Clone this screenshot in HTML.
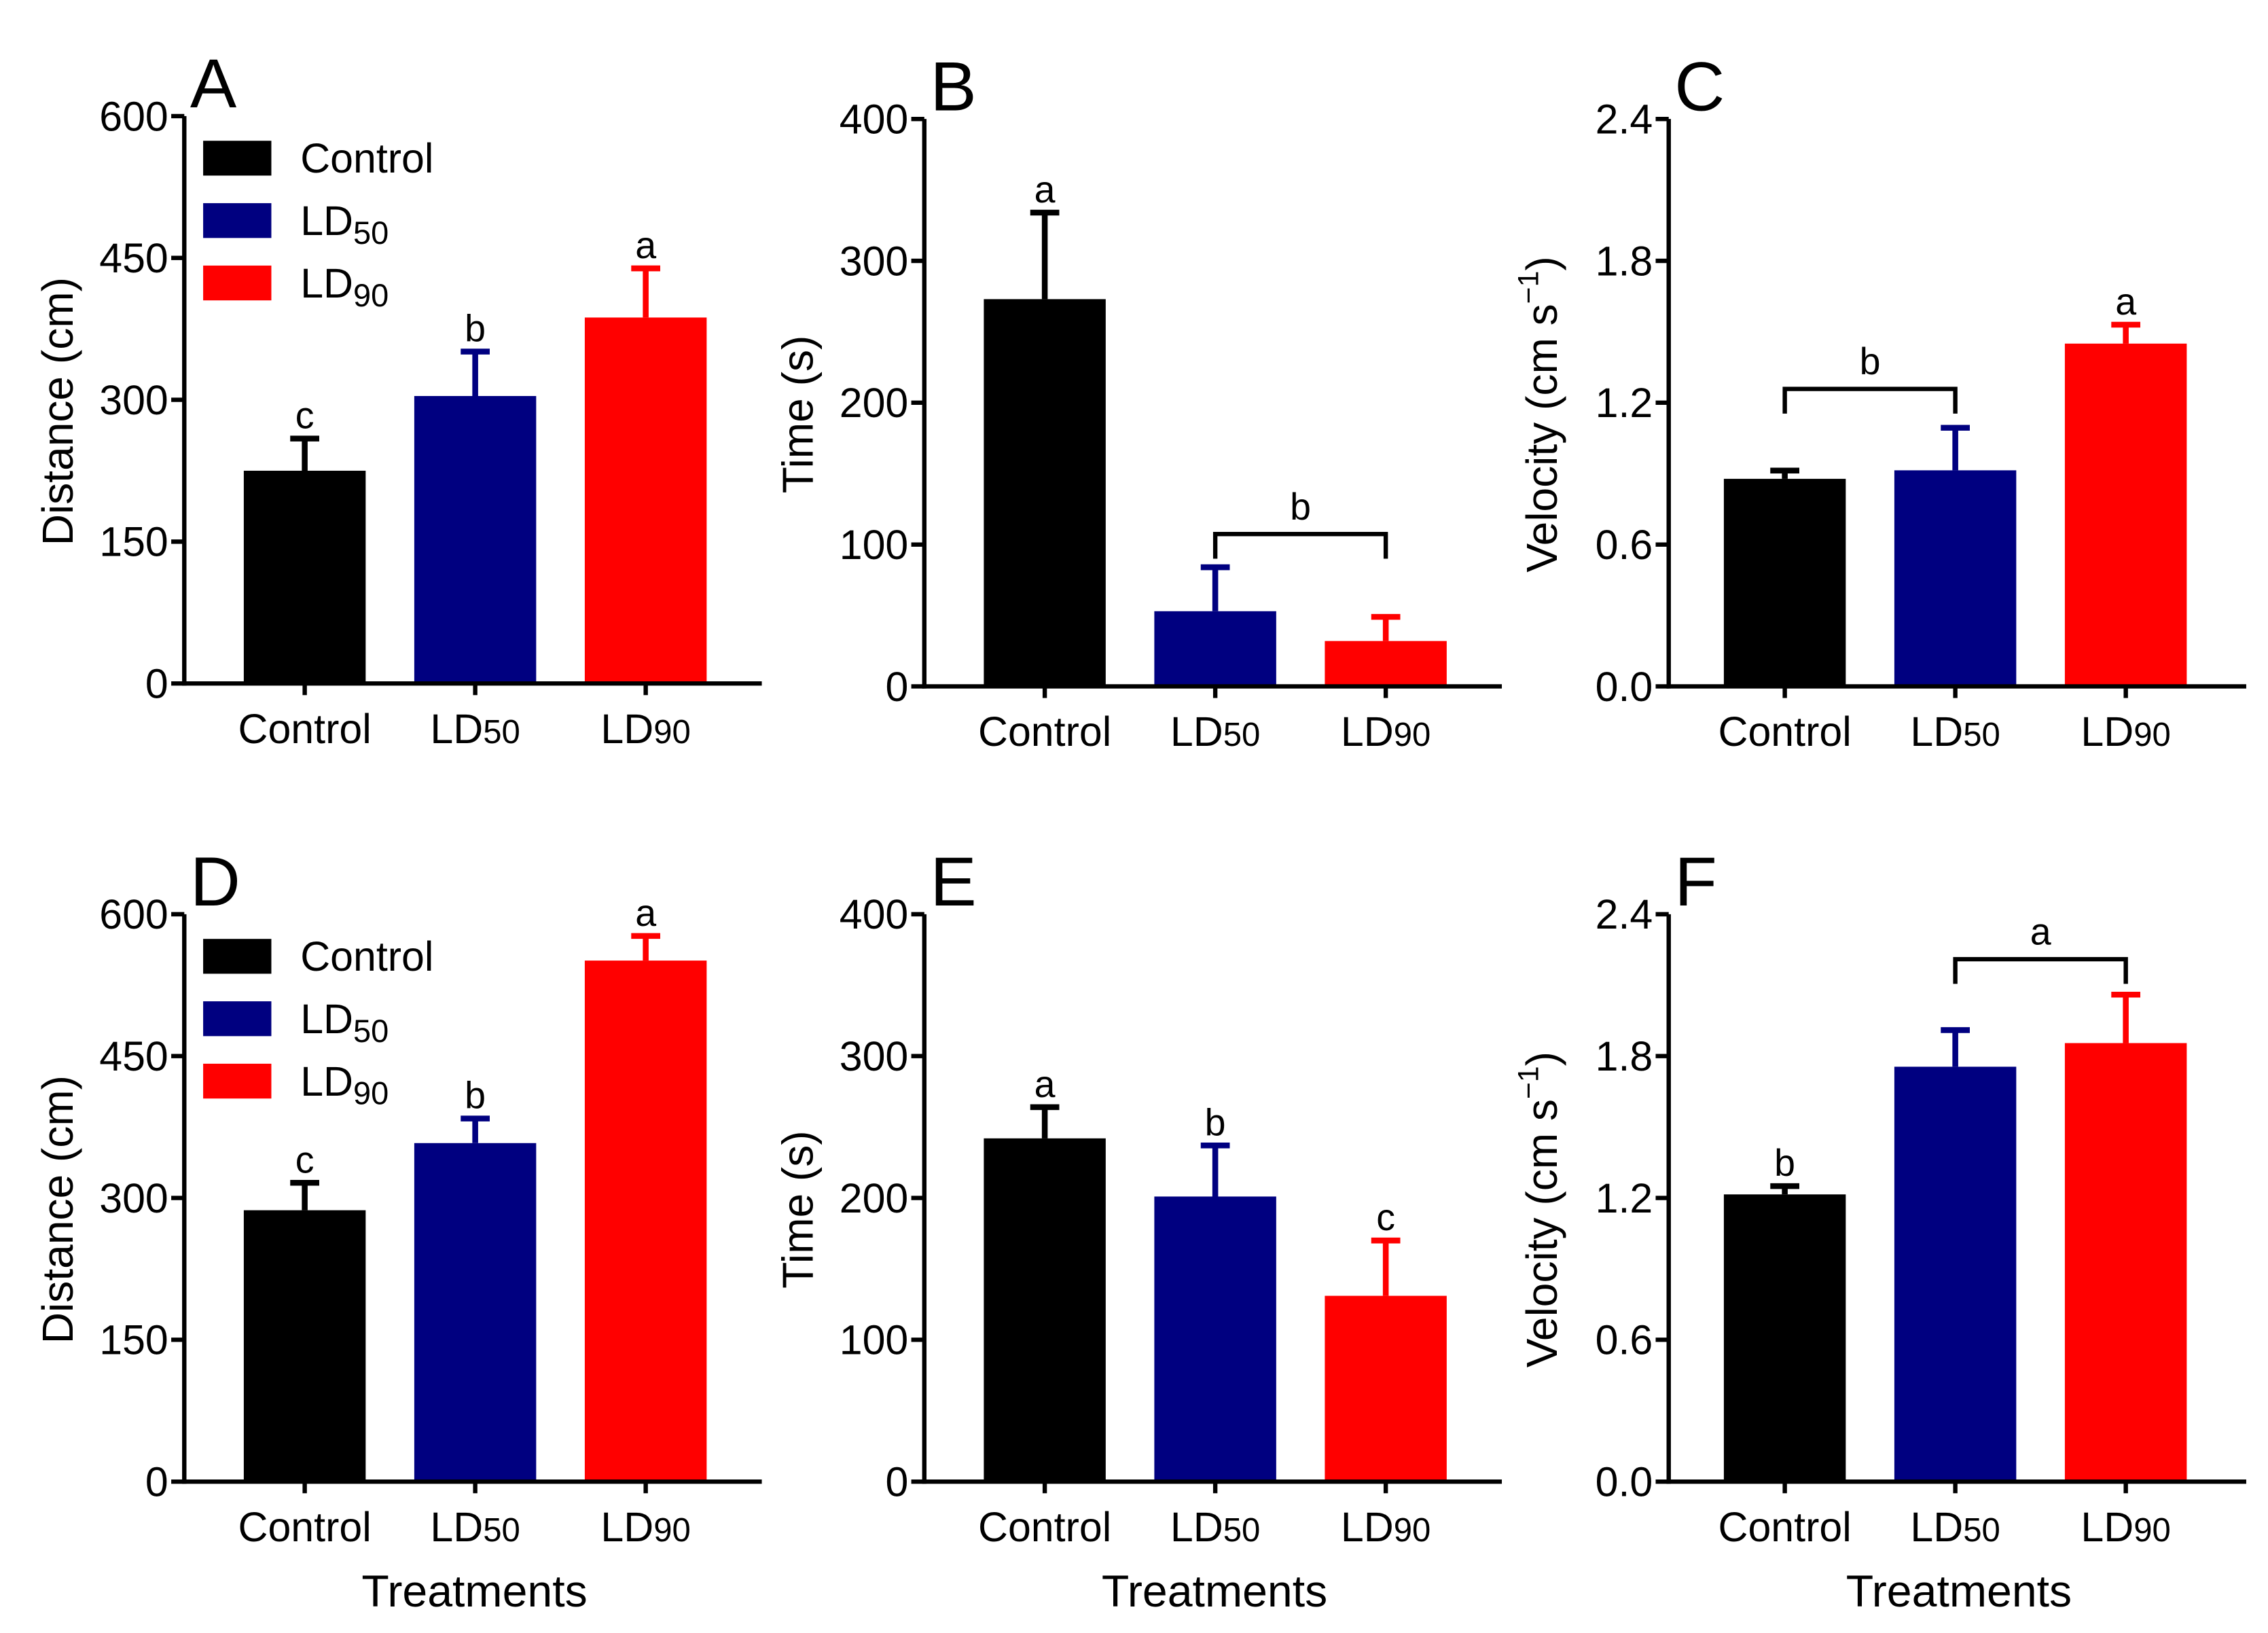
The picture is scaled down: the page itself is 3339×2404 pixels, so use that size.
<!DOCTYPE html>
<html><head><meta charset="utf-8"><style>
html,body{margin:0;padding:0;background:#fff;}
svg{display:block;font-family:"Liberation Sans",Arial,sans-serif;}
</style></head><body>
<svg id="fig" width="3339" height="2404" viewBox="0 0 1563 1125.3" preserveAspectRatio="none" xmlns="http://www.w3.org/2000/svg"></svg>
<script>
const categories = ["Control","LD50","LD90"];
const colors = ["#000000","#000080","#ff0000"];
const letters = ["A","B","C","D","E","F"];
const yMaxes = [600,400,2.4,600,400,2.4];
const yTicksDist = ["0","150","300","450","600"];
const yTicksTime = ["0","100","200","300","400"];
const yTicksVel = ["0.0","0.6","1.2","1.8","2.4"];
const valsA = [225,304,387], errA = [34,47,52];
const valsB = [273,53,32], errB = [61,31,17];
const valsC = [0.878,0.914,1.45], errC = [0.035,0.18,0.08];
const valsD = [287,358,551], errD = [29,26,26];
const valsE = [242,201,131], errE = [22,36,39];
const valsF = [1.215,1.755,1.855], errF = [0.035,0.155,0.205];
const sigA = ["c","b","a"], sigB = ["a","",""], sigC = ["","","a"];
const sigD = ["c","b","a"], sigE = ["a","b","c"], sigF = ["b","",""];

const svg = document.getElementById('fig');
const NS = "http://www.w3.org/2000/svg";
function mk(tag, attrs, parent){const e=document.createElementNS(NS,tag);for(const k in attrs)e.setAttribute(k,attrs[k]);(parent||svg).appendChild(e);return e;}

const panels = [
 {ax:127, off:83, top:80, bot:471, vals:valsA, err:errA, sig:sigA, ticks:yTicksDist, title:"Distance (cm)", legend:true, bracket:null},
 {ax:637, off:83, top:82, bot:473, vals:valsB, err:errB, sig:sigB, ticks:yTicksTime, title:"Time (s)", bracket:{a:1,b:2,y:368,t:"b"}},
 {ax:1150, off:80, top:82, bot:473, vals:valsC, err:errC, sig:sigC, ticks:yTicksVel, title:"vel", bracket:{a:0,b:1,y:268,t:"b"}},
 {ax:127, off:83, top:630, bot:1021, vals:valsD, err:errD, sig:sigD, ticks:yTicksDist, title:"Distance (cm)", legend:true, bracket:null, xt:true},
 {ax:637, off:83, top:630, bot:1021, vals:valsE, err:errE, sig:sigE, ticks:yTicksTime, title:"Time (s)", bracket:null, xt:true},
 {ax:1150, off:80, top:630, bot:1021, vals:valsF, err:errF, sig:sigF, ticks:yTicksVel, title:"vel", bracket:{a:1,b:2,y:661,t:"a"}, xt:true}
];

panels.forEach((p,pi)=>{
  const g = mk('g',{});
  
  
  const ymax = yMaxes[pi];
  const y = v => p.bot - v/ymax*(p.bot-p.top);
  const xc = i => p.ax + p.off + i*117.5;
  const bw = 84;
  categories.forEach((c,i)=>{
    const yt = y(p.vals[i]), ye = y(p.vals[i]+p.err[i]);
    const ln = mk('line',{x1:xc(i),x2:xc(i),y1:yt,y2:ye,stroke:colors[i],'stroke-width':4},g);
    
    
    const cap = mk('line',{x1:xc(i)-10,x2:xc(i)+10,y1:ye,y2:ye,stroke:colors[i],'stroke-width':4},g);
    
    
    const r = mk('rect',{x:xc(i)-bw/2,y:yt,width:bw,height:p.bot-yt,fill:colors[i]},g);
    
    
    if(p.sig[i]){
      const s = mk('text',{x:xc(i),y:ye-7,'font-size':26,'text-anchor':'middle',fill:'#000'},g);
      s.textContent=p.sig[i];
      
      
    }
    mk('line',{x1:xc(i),x2:xc(i),y1:p.bot,y2:p.bot+8,stroke:'#000','stroke-width':3},g);
    const t = mk('text',{x:xc(i),y:p.bot+41,'font-size':28.5,'text-anchor':'middle',fill:'#000'},g);
    
    
    if(c==="Control"){t.textContent="Control";}
    else{t.textContent="LD";const ts=mk('tspan',{'font-size':23},t);ts.textContent=c.slice(2);}
  });
  const ya = mk('line',{x1:p.ax,x2:p.ax,y1:p.top,y2:p.bot+1.5,stroke:'#000','stroke-width':3},g);
   
  const xa = mk('line',{x1:p.ax-1.5,x2:p.ax+398,y1:p.bot,y2:p.bot,stroke:'#000','stroke-width':3},g);
   
  p.ticks.forEach((lab,k)=>{
    const v = ymax*k/(p.ticks.length-1);
    mk('line',{x1:p.ax-9,x2:p.ax,y1:y(v),y2:y(v),stroke:'#000','stroke-width':3},g);
    const t = mk('text',{x:p.ax-11,y:y(v)+10,'font-size':28.5,'text-anchor':'end',fill:'#000'},g);
    t.textContent=lab;
    
    
  });
  const cy=(p.top+p.bot)/2+8, tx=p.ax-77;
  const yt = mk('text',{x:tx,y:cy,'font-size':30,'text-anchor':'middle',transform:`rotate(-90 ${tx} ${cy})`,fill:'#000'},g);
  
  
  if(p.title==="vel"){
    yt.textContent="Velocity (cm s";
    const sp=mk('tspan',{'font-size':20,dy:-13},yt);sp.textContent="−1";
    const sp2=mk('tspan',{dy:13},yt);sp2.textContent=")";
  } else yt.textContent=p.title;
  const L = mk('text',{x:p.ax+4,y:p.top-6,'font-size':48,fill:'#000'},g);
  L.textContent=letters[pi];
  
  
  if(p.bracket){
    const b=p.bracket, x1=xc(b.a), x2=xc(b.b);
    const br = mk('path',{d:`M${x1} ${b.y+17}V${b.y}H${x2}V${b.y+17}`,fill:'none',stroke:'#000','stroke-width':3},g);
    
    
    const bt = mk('text',{x:(x1+x2)/2,y:b.y-10,'font-size':26,'text-anchor':'middle',fill:'#000'},g);
    bt.textContent=b.t;
    
    
  }
  if(p.legend){
    categories.forEach((c,i)=>{
      const ly = p.top+29+i*43;
      const sw = mk('rect',{x:p.ax+13,y:ly-12,width:47,height:24,fill:colors[i]},g);
      
      
      const lt = mk('text',{x:p.ax+80,y:ly+10,'font-size':28.5,fill:'#000'},g);
      
      
      if(c==="Control") lt.textContent="Control";
      else{lt.textContent="LD";const s=mk('tspan',{'font-size':22,dy:6},lt);s.textContent=c.slice(2);}
    });
  }
  if(p.xt){
    const xt = mk('text',{x:p.ax+200,y:1107,'font-size':31,'text-anchor':'middle',fill:'#000'},g);
    xt.textContent="Treatments";
    
    
  }
});
</script>
</body></html>
